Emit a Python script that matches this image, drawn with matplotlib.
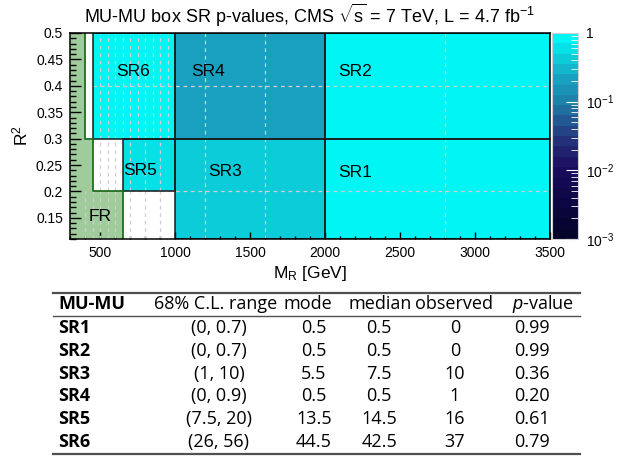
import numpy as np
import matplotlib
matplotlib.use("Agg")
import matplotlib.pyplot as plt
from matplotlib.colors import LinearSegmentedColormap, LogNorm
from matplotlib.patches import Rectangle
from matplotlib.lines import Line2D
from matplotlib.ticker import MultipleLocator, FuncFormatter

plt.rcParams['font.family'] = ['Liberation Sans', 'DejaVu Sans']
plt.rcParams['mathtext.fontset'] = 'custom'
plt.rcParams['mathtext.rm'] = 'Liberation Sans'
plt.rcParams['mathtext.it'] = 'Liberation Sans:italic'
plt.rcParams['mathtext.bf'] = 'Liberation Sans:bold'

# signal regions: box edges in (M_R, R^2) and results
regions = ['SR1', 'SR2', 'SR3', 'SR4', 'SR5', 'SR6']
mr_lo = [2000, 2000, 1000, 1000, 650, 450]
mr_hi = [3500, 3500, 2000, 2000, 1000, 1000]
r2_lo = [0.11, 0.3, 0.11, 0.3, 0.2, 0.3]
r2_hi = [0.3, 0.5, 0.3, 0.5, 0.3, 0.5]
label_mr = [2090, 2090, 1220, 1110, 655, 610]
label_r2 = [0.235, 0.428, 0.238, 0.428, 0.24, 0.428]

cl_range = ['(0, 0.7)', '(0, 0.7)', '(1, 10)', '(0, 0.9)', '(7.5, 20)', '(26, 56)']
mode = [0.5, 0.5, 5.5, 0.5, 13.5, 44.5]
median = [0.5, 0.5, 7.5, 0.5, 14.5, 42.5]
observed = [0, 0, 10, 1, 16, 37]
pvalue = [0.99, 0.99, 0.36, 0.20, 0.61, 0.79]

# fit region outline
fr_mr = [300, 650, 650, 450, 450, 400, 400, 300]
fr_r2 = [0.11, 0.11, 0.2, 0.2, 0.3, 0.3, 0.5, 0.5]

# dashed bin edges of the underlying grid
grid_top_mr = [500, 550, 600, 650, 700, 750, 800, 850, 900, 950]
grid_mid_mr = [500, 550, 600, 700, 800, 900]
grid_low_mr = [400, 450, 500, 550, 600, 700, 800, 900]
grid_full_mr = [1200, 1600, 2800]
grid_r2 = [0.2, 0.4]

cmap = LinearSegmentedColormap.from_list('pal', [
    (0.0, '#04042a'), (0.17, '#0b0745'), (0.34, '#1b0c60'),
    (0.5, '#25387e'), (0.667, '#1f7ea8'), (0.78, '#1a9cbe'),
    (0.88, '#0ec6d6'), (1.0, '#00f5f5')]).resampled(20)
norm = LogNorm(1e-3, 1)

W, H = 623, 459
fig = plt.figure(figsize=(W / 100, H / 100), dpi=100)
ax = fig.add_axes([70 / W, 1 - 239 / H, 480 / W, 206 / H])
ax.set_xlim(300, 3500)
ax.set_ylim(0.11, 0.5)

for i, name in enumerate(regions):
    ax.pcolormesh([mr_lo[i], mr_hi[i]], [r2_lo[i], r2_hi[i]], [[pvalue[i]]],
                  cmap=cmap, norm=norm, zorder=1)
    ax.add_patch(Rectangle((mr_lo[i], r2_lo[i]), mr_hi[i] - mr_lo[i],
                           r2_hi[i] - r2_lo[i], fill=False, ec='#1a1a1a',
                           lw=1.1, zorder=4))
    ax.text(label_mr[i], label_r2[i], name, fontsize=12.5, va='center',
            ha='left', zorder=5)

ax.fill(fr_mr, fr_r2, color='#a0cc9b', lw=0, zorder=1)
ax.plot(fr_mr[1:7], fr_r2[1:7], color='#1f6e1f', lw=1.3, zorder=4)
ax.text(427, 0.153, 'FR', fontsize=12.5, va='center', ha='left', zorder=5)

gkw = dict(colors='#cfcfcf', linestyles=(0, (3, 3)), lw=0.9, zorder=2)
ax.vlines(grid_top_mr, 0.3, 0.5, **gkw)
ax.vlines(grid_mid_mr, 0.2, 0.3, **gkw)
ax.vlines(grid_low_mr, 0.11, 0.2, **gkw)
ax.vlines(grid_full_mr, 0.11, 0.5, **gkw)
ax.hlines(grid_r2, 450, 3500, **gkw)

ax.xaxis.set_major_locator(MultipleLocator(500))
ax.xaxis.set_minor_locator(MultipleLocator(100))
ax.yaxis.set_major_locator(MultipleLocator(0.05))
ax.yaxis.set_minor_locator(MultipleLocator(0.01))
ax.yaxis.set_major_formatter(FuncFormatter(lambda v, p: f'{v:g}'))
ax.tick_params(axis='both', which='both', direction='in', labelsize=10,
               top=False, right=False, width=1)
ax.tick_params(axis='x', which='major', length=5, pad=5)
ax.tick_params(axis='x', which='minor', length=2.5)
ax.tick_params(axis='y', which='major', length=8, pad=5)
ax.tick_params(axis='y', which='minor', length=4.5)
for s in ax.spines.values():
    s.set_linewidth(1.1)
    s.set_zorder(6)
ax.set_xlabel('M$_\\mathregular{R}$ [GeV]', fontsize=12.5, labelpad=3)
ax.set_ylabel('R$^\\mathregular{2}$', fontsize=12.5, labelpad=4)

ax.set_title('MU-MU box SR p-values, CMS $\\sqrt{\\mathregular{s}}$ = 7 TeV, '
             'L = 4.7 fb$^\\mathregular{-1}$', fontsize=13, pad=7)

# palette
cax = fig.add_axes([552 / W, 1 - 239 / H, 26 / W, 206 / H])
sm = plt.cm.ScalarMappable(norm=norm, cmap=cmap)
cb = fig.colorbar(sm, cax=cax)
cb.outline.set_edgecolor('#d0d0d0')
cb.outline.set_linewidth(0.8)
cax.yaxis.set_major_formatter(FuncFormatter(
    lambda v, p: '1' if v == 1 else '$\\mathregular{10^{%d}}$' % round(np.log10(v))))
cax.tick_params(which='both', direction='in', color='white', labelsize=10,
                pad=6)
cax.tick_params(which='major', length=9)
cax.tick_params(which='minor', length=5)

# results table
cols_x = [219, 314, 379, 455, 532]
head_x = [216, 308, 380, 454, 543]
tfont = ['Open Sans', 'DejaVu Sans']
fs = 13

def fx(px):
    return px / W

def fy(py):
    return 1 - py / H

fig.add_artist(Line2D([fx(53), fx(580)], [fy(293), fy(293)], color='#505050', lw=1.6))
fig.add_artist(Line2D([fx(53), fx(580)], [fy(316), fy(316)], color='#505050', lw=1.0))
fig.add_artist(Line2D([fx(53), fx(580)], [fy(454), fy(454)], color='#505050', lw=1.6))

fig.text(fx(58), fy(304), 'MU-MU', fontsize=fs, family=tfont, weight='bold',
         va='center', ha='left')
headers = ['68% C.L. range', 'mode', 'median', 'observed', '$\\it{p}$-value']
for hx, h in zip(head_x, headers):
    fig.text(fx(hx), fy(304), h, fontsize=fs, family=tfont, va='center',
             ha='center')

for i, name in enumerate(regions):
    y = fy(328 + 22.8 * i)
    fig.text(fx(58), y, name, fontsize=fs, family=tfont, weight='bold',
             va='center', ha='left')
    vals = [cl_range[i], f'{mode[i]:g}', f'{median[i]:g}', str(observed[i]),
            f'{pvalue[i]:.2f}']
    for cx, v in zip(cols_x, vals):
        fig.text(fx(cx), y, v, fontsize=fs, family=tfont, va='center',
                 ha='center')

fig.savefig('out.png', dpi=100)
